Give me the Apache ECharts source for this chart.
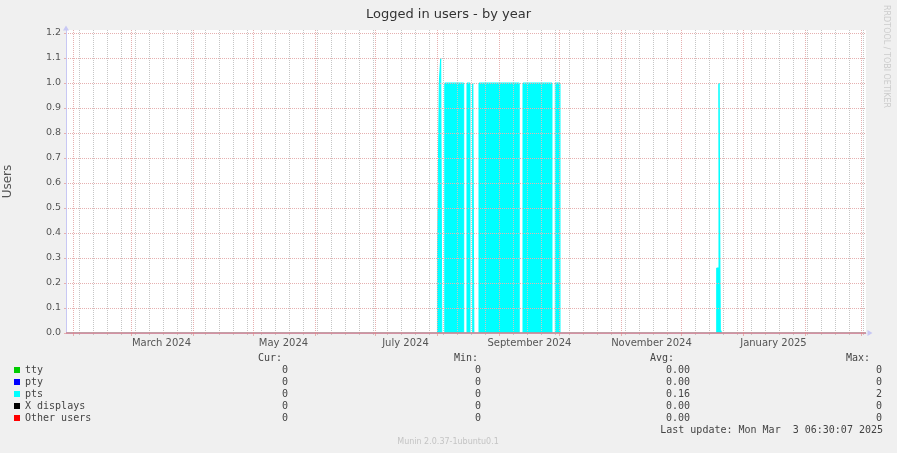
<!DOCTYPE html>
<html><head><meta charset="utf-8">
<script src="https://cdn.jsdelivr.net/npm/echarts@6/dist/echarts.min.js"></script>
<style>html,body{margin:0;padding:0;background:#f0f0f0}#c{width:897px;height:453px}</style>
</head><body><div id="c"></div>
<script>
// ---- data ----
const START = '2024-01-28T06:30:07Z';
const END = '2025-03-03T06:30:07Z';
const monthStarts = ['2024-02-01','2024-03-01','2024-04-01','2024-05-01','2024-06-01','2024-07-01','2024-08-01','2024-09-01','2024-10-01','2024-11-01','2024-12-01','2025-01-01','2025-02-01','2025-03-01'];
const firstWeekStart = '2024-02-04';
const labelDates = ['2024-03-16','2024-05-16','2024-07-16','2024-09-16','2024-11-16','2025-01-16'];
const labelTexts = ['March 2024','May 2024','July 2024','September 2024','November 2024','January 2025'];
const yTicks = [0,0.1,0.2,0.3,0.4,0.5,0.6,0.7,0.8,0.9,1.0,1.1,1.2];
const seriesNames = ['tty','pty','pts','X displays','Other users'];
const seriesColors = ['#00cc00','#0000ff','#00ffff','#000000','#ff0000'];
const curValues = ['0','0','0','0','0'];
const minValues = ['0','0','0','0','0'];
const avgValues = ['0.00','0.00','0.16','0.00','0.00'];
const maxValues = ['0','0','2','0','0'];
const ptsData = [
  ['2024-01-28T06:30:07Z', 0],
  ['2024-08-01T00:00:00Z', 0.3],
  ['2024-08-01T22:00:00Z', 1.0],
  ['2024-08-02T15:00:00Z', 1.1],
  ['2024-08-03T04:00:00Z', 0],
  ['2024-08-04T16:00:00Z', 1.0],
  ['2024-08-14T03:00:00Z', 0],
  ['2024-08-15T18:30:00Z', 1.0],
  ['2024-08-17T06:30:00Z', 0],
  ['2024-08-18T15:00:00Z', 1.0],
  ['2024-08-19T05:00:00Z', 0],
  ['2024-08-21T18:30:00Z', 1.0],
  ['2024-09-10T21:00:00Z', 0],
  ['2024-09-12T18:30:00Z', 1.0],
  ['2024-09-27T06:30:00Z', 0],
  ['2024-09-28T22:00:00Z', 1.0],
  ['2024-10-01T06:30:00Z', 0],
  ['2024-12-18T15:00:00Z', 0.26],
  ['2024-12-19T18:30:00Z', 1.0],
  ['2024-12-20T10:00:00Z', 0.015],
  ['2024-12-21T03:00:00Z', 0],
  ['2025-03-03T06:30:07Z', 0]
];
const zeroData = [[START, 0], [END, 0]];

// ---- helpers ----
const ms = s => Date.parse(s.length === 10 ? s + 'T00:00:00Z' : s);
const tMin = ms(START), tMax = ms(END);
const monthTimes = monthStarts.map(ms);
const weekTimes = [];
for (let w = ms(firstWeekStart); w <= tMax; w += 7 * 86400000) weekTimes.push(w);
const labelTimes = labelDates.map(ms);

const FONT = 'DejaVu Sans';
const MONO = 'DejaVu Sans Mono';
const MINOR = '#c6c6c6';
const MAJOR = '#e6b0b0';
const AXIS = '#c8c8f4';

const series = seriesNames.map((name, i) => {
  const isPts = name === 'pts';
  const isOther = name === 'Other users';
  return {
    name,
    type: 'line',
    xAxisIndex: 0,
    step: 'end',
    showSymbol: false,
    symbol: 'none',
    animation: false,
    clip: isPts,
    color: seriesColors[i],
    z: isPts ? 2 : 8,
    zlevel: 0,
    data: (isPts ? ptsData : zeroData).map(d => [ms(d[0]), d[1]]),
    areaStyle: isPts ? { color: seriesColors[i], opacity: 1 } : undefined,
    lineStyle: isPts ? { color: seriesColors[i], width: 1 }
              : (isOther ? { color: '#d87f88', width: 1.6 } : { width: 0, opacity: 0 })
  };
});

const option = {
  backgroundColor: '#f0f0f0',
  animation: false,
  title: {
    text: 'Logged in users - by year',
    left: 'center', top: 3,
    textStyle: { fontFamily: FONT, fontSize: 13, fontWeight: 'normal', color: '#333' }
  },
  grid: { left: 66, top: 30, width: 800, height: 303, show: true, backgroundColor: '#ffffff', borderWidth: 0, outerBoundsMode: 'none', containLabel: false },
  legend: {
    orient: 'vertical', left: 14, top: 364, padding: 0, itemGap: 0,
    itemWidth: 6, itemHeight: 6, icon: 'rect',
    itemStyle: { borderWidth: 0 },
    selectedMode: false,
    data: seriesNames,
    formatter: name => {
      const i = seriesNames.indexOf(name);
      return `{n|${name}}{c|${curValues[i]}}{mi|${minValues[i]}}{av|${avgValues[i]}}{mx|${maxValues[i]}}`;
    },
    textStyle: {
      fontFamily: MONO, fontSize: 10, color: '#444', lineHeight: 12,
      rich: {
        n: { width: 200, fontFamily: MONO, fontSize: 10, color: '#444', lineHeight: 12 },
        c: { width: 63, align: 'right', fontFamily: MONO, fontSize: 10, color: '#444', lineHeight: 12 },
        mi: { width: 193, align: 'right', fontFamily: MONO, fontSize: 10, color: '#444', lineHeight: 12 },
        av: { width: 209, align: 'right', fontFamily: MONO, fontSize: 10, color: '#444', lineHeight: 12 },
        mx: { width: 192, align: 'right', fontFamily: MONO, fontSize: 10, color: '#444', lineHeight: 12 }
      }
    }
  },
  xAxis: [
    {
      type: 'value', min: tMin, max: tMax, position: 'bottom', z: 4,
      axisLine: { show: true, lineStyle: { color: AXIS, width: 1 }, symbol: ['none', 'triangle'], symbolSize: [6, 5], symbolOffset: [0, 4] },
      axisTick: { show: true, customValues: weekTimes, length: 2, lineStyle: { color: MINOR } },
      splitLine: { show: true, lineStyle: { color: MINOR, type: [1, 1], width: 1 } },
      axisLabel: {
        show: true, customValues: labelTimes, margin: 5,
        fontFamily: FONT, fontSize: 10, color: '#555',
        formatter: v => labelTexts[labelTimes.indexOf(v)] || ''
      }
    },
    {
      type: 'value', min: tMin, max: tMax, position: 'bottom', z: 4,
      axisLine: { show: false },
      axisTick: { show: true, customValues: monthTimes, length: 3, lineStyle: { color: MAJOR } },
      splitLine: { show: true, lineStyle: { color: MAJOR, type: [1, 1], width: 1 } },
      axisLabel: { show: false }
    }
  ],
  yAxis: {
    type: 'value', min: 0, max: 1.212, z: 4,
    name: 'Users', nameLocation: 'middle', nameGap: 52, nameRotate: 90,
    nameTextStyle: { fontFamily: FONT, fontSize: 12, color: '#555' },
    axisLine: { show: true, lineStyle: { color: AXIS, width: 1 }, symbol: ['none', 'triangle'], symbolSize: [6, 5], symbolOffset: [0, 2] },
    axisTick: { show: true, customValues: yTicks, length: 2, lineStyle: { color: MAJOR } },
    splitLine: { show: true, lineStyle: { color: MAJOR, type: [1, 1], width: 1 } },
    axisLabel: { customValues: yTicks, margin: 5, fontFamily: FONT, fontSize: 9.5, color: '#555', formatter: v => v.toFixed(1) }
  },
  graphic: [
    { type: 'text', x: 886, y: 5, rotation: -Math.PI / 2,
      style: { text: 'RRDTOOL / TOBI OETIKER', font: '8px "DejaVu Sans"', fill: '#cccccc', textAlign: 'left', textVerticalAlign: 'middle' } },
    { type: 'text', x: 282, y: 358, style: { text: 'Cur:', font: '10px "DejaVu Sans Mono"', fill: '#444', textAlign: 'right', textVerticalAlign: 'middle' } },
    { type: 'text', x: 478, y: 358, style: { text: 'Min:', font: '10px "DejaVu Sans Mono"', fill: '#444', textAlign: 'right', textVerticalAlign: 'middle' } },
    { type: 'text', x: 674, y: 358, style: { text: 'Avg:', font: '10px "DejaVu Sans Mono"', fill: '#444', textAlign: 'right', textVerticalAlign: 'middle' } },
    { type: 'text', x: 870, y: 358, style: { text: 'Max:', font: '10px "DejaVu Sans Mono"', fill: '#444', textAlign: 'right', textVerticalAlign: 'middle' } },
    { type: 'text', x: 883, y: 430, style: { text: 'Last update: Mon Mar  3 06:30:07 2025', font: '10px "DejaVu Sans Mono"', fill: '#444', textAlign: 'right', textVerticalAlign: 'middle' } },
    { type: 'text', x: 448, y: 442, style: { text: 'Munin 2.0.37-1ubuntu0.1', font: '8px "DejaVu Sans"', fill: '#c4c4c4', textAlign: 'center', textVerticalAlign: 'middle' } }
  ],
  series
};
const chart = echarts.init(document.getElementById('c'));
chart.setOption(option);
</script>
</body></html>
